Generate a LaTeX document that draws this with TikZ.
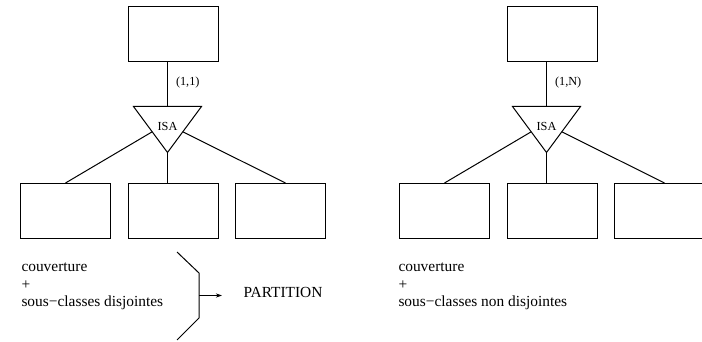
\documentclass[tikz,border=0pt]{standalone}
\usepackage{fontspec}
\setmainfont{Liberation Serif}
\usetikzlibrary{calc,arrows.meta}
\begin{document}
\begin{tikzpicture}[x=1pt,y=-1pt,line width=1pt,
  ent/.style={draw,minimum width=90pt,minimum height=55pt,inner sep=0pt},
  isabox/.style={minimum width=67pt,minimum height=45pt,inner sep=0pt},
  lab/.style={font=\fontsize{12.3}{14}\selectfont,inner sep=0pt},
  txt/.style={font=\fontsize{15.4}{18}\selectfont,anchor=base west,inner sep=0pt}]
\useasboundingbox (0,0) rectangle (702,342);
\clip (0,0) rectangle (702,342);

% ---- generalisation with disjoint sub-classes (partition)
\node[ent] (top1) at (173,34.5) {};
\node[isabox] (isa1) at (167.5,129.5) {};
\draw (isa1.north west) -- (isa1.north east) -- (isa1.south) -- cycle;
\node[lab] (isat1) at (167.5,126) {ISA};
\node[ent] (b11) at (65.5,211) {};
\node[ent] (b12) at (173,211) {};
\node[ent] (b13) at (280.5,211) {};
\draw (top1.south -| isa1.north) -- (isa1.north)
  node[lab,anchor=west,pos=0.45,xshift=8pt] (card1) {(1,1)};
\draw ($(isa1.north west)!0.55!(isa1.south)$) -- (b11.north);
\draw (isa1.south) -- (isa1.south |- b12.north);
\draw ($(isa1.north east)!0.55!(isa1.south)$) -- ([xshift=5pt]b13.north);

\node[txt] (c1) at (21,271) {couverture};
\node[txt] (p1) at (21,289) {+};
\node[txt] (s1) at (21,306) {sous−classes disjointes};
\draw (177,252) -- (199,273) -- (199,318) -- (177,340);
\coordinate (brc) at (199,295.5);
\coordinate (arr) at (222,295.5);
\draw[-{Stealth[length=6pt,width=4pt]}] (brc) -- (arr);
\node[txt] (part) at (243,297) {PARTITION};

% ---- generalisation with overlapping sub-classes
\begin{scope}[xshift=379pt]
\node[ent] (top2) at (173,34.5) {};
\node[isabox] (isa2) at (167.5,129.5) {};
\draw (isa2.north west) -- (isa2.north east) -- (isa2.south) -- cycle;
\node[lab] (isat2) at (167.5,126) {ISA};
\node[ent] (b21) at (65.5,211) {};
\node[ent] (b22) at (173,211) {};
\node[ent] (b23) at (280.5,211) {};
\draw (top2.south -| isa2.north) -- (isa2.north)
  node[lab,anchor=west,pos=0.45,xshift=8pt] (card2) {(1,N)};
\draw ($(isa2.north west)!0.55!(isa2.south)$) -- (b21.north);
\draw (isa2.south) -- (isa2.south |- b22.north);
\draw ($(isa2.north east)!0.55!(isa2.south)$) -- ([xshift=5pt]b23.north);

\node[txt] (c2) at (19,271) {couverture};
\node[txt] (p2) at (19,289) {+};
\node[txt] (s2) at (19,306) {sous−classes non disjointes};
\end{scope}
\end{tikzpicture}
\end{document}
